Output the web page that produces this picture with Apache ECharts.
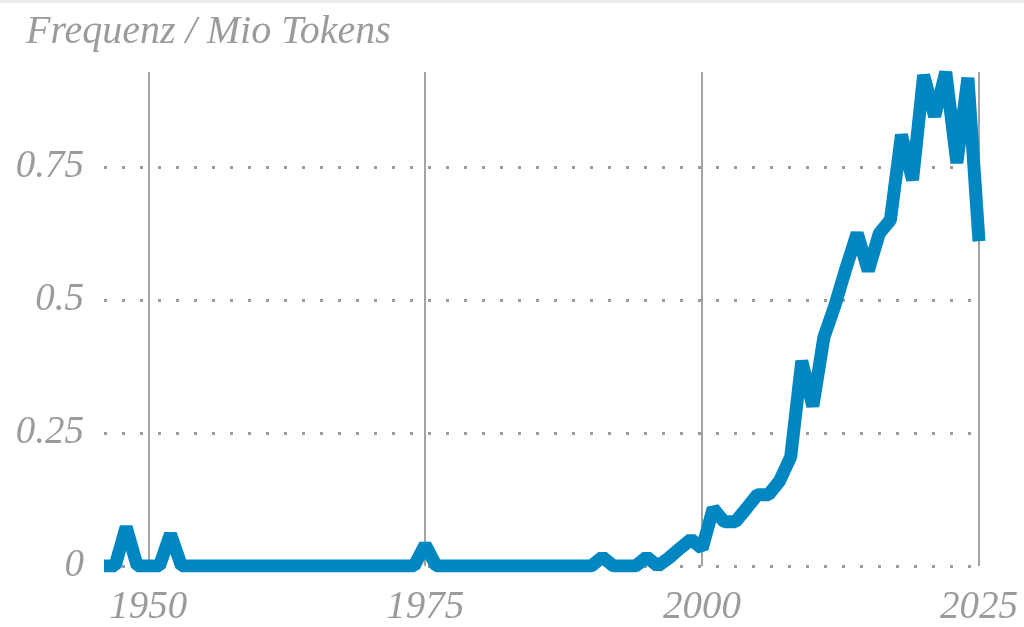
<!DOCTYPE html>
<html lang="de">
<head>
<meta charset="UTF-8" />
<title>Frequenz / Mio Tokens</title>
<script src="https://cdn.jsdelivr.net/npm/echarts@6/dist/echarts.min.js"></script>
<style>
  html, body { margin: 0; padding: 0; background: #fff; }
  #chart { width: 1024px; height: 627px; }
</style>
</head>
<body>
<div id="chart"></div>
<script>
// Jahre 1946–2025, Werte je Jahr (Frequenz pro Mio Tokens)
const years = [];
for (let y = 1946; y <= 2025; y++) years.push(String(y));

const values = [
  0, 0, 0.073, 0, 0, 0, 0.06, 0, 0, 0,             // 1946-1955
  0, 0, 0, 0, 0, 0, 0, 0, 0, 0,                    // 1956-1965
  0, 0, 0, 0, 0, 0, 0, 0, 0, 0.04,                 // 1966-1975
  0, 0, 0, 0, 0, 0, 0, 0, 0, 0,                    // 1976-1985
  0, 0, 0, 0, 0, 0.017, 0, 0, 0, 0.017,            // 1986-1995
  0, 0.015, 0.033, 0.05, 0.033, 0.108, 0.083, 0.083, 0.108, 0.134, // 1996-2005
  0.134, 0.16, 0.205, 0.385, 0.3, 0.43, 0.49, 0.56, 0.625, 0.555,  // 2006-2015
  0.625, 0.65, 0.81, 0.725, 0.922, 0.845, 0.928, 0.757, 0.917, 0.61 // 2016-2025
];

const yTicks = [0, 0.25, 0.5, 0.75];
const xTicks = ['1950', '1975', '2000', '2025'];

const GREY = '#9b9b9b';
const FONT = '"Liberation Serif", "DejaVu Serif", serif';

const chart = echarts.init(document.getElementById('chart'));
chart.setOption({
  animation: false,
  title: {
    text: 'Frequenz / Mio Tokens',
    left: 21,
    top: 7,
    textStyle: { fontFamily: FONT, fontStyle: 'italic', fontWeight: 'normal', fontSize: 40, color: GREY }
  },
  graphic: [
    { type: 'rect', left: 0, top: 0, shape: { width: 1024, height: 3 }, style: { fill: '#ececec' } }
  ],
  grid: { left: 104, right: 45, top: 72, bottom: 60 },
  xAxis: {
    type: 'category',
    data: years,
    boundaryGap: false,
    axisLine: { show: false },
    axisTick: { show: false },
    axisLabel: {
      interval: (i, v) => xTicks.includes(v),
      margin: 22,
      fontFamily: FONT, fontStyle: 'italic', fontSize: 39, color: GREY
    },
    splitLine: {
      show: true,
      interval: (i, v) => xTicks.includes(v),
      lineStyle: { color: '#a3a3a3', width: 2 }
    }
  },
  yAxis: {
    type: 'value',
    min: 0,
    max: Math.max(...values),
    interval: 0.25,
    axisLine: { show: false },
    axisTick: { show: false },
    axisLabel: {
      margin: 20,
      showMaxLabel: false,
      formatter: v => (yTicks.includes(v) ? String(v) : ''),
      fontFamily: FONT, fontStyle: 'italic', fontSize: 39, color: GREY
    },
    splitLine: {
      show: true,
      lineStyle: {
        color: [GREY, GREY, GREY, GREY, 'rgba(0,0,0,0)'],
        width: 3,
        type: [3, 15]
      }
    }
  },
  series: [{
    type: 'line',
    data: values,
    showSymbol: false,
    symbol: 'none',
    lineStyle: { color: '#0087c2', width: 13 }
  }]
});
</script>
</body>
</html>
